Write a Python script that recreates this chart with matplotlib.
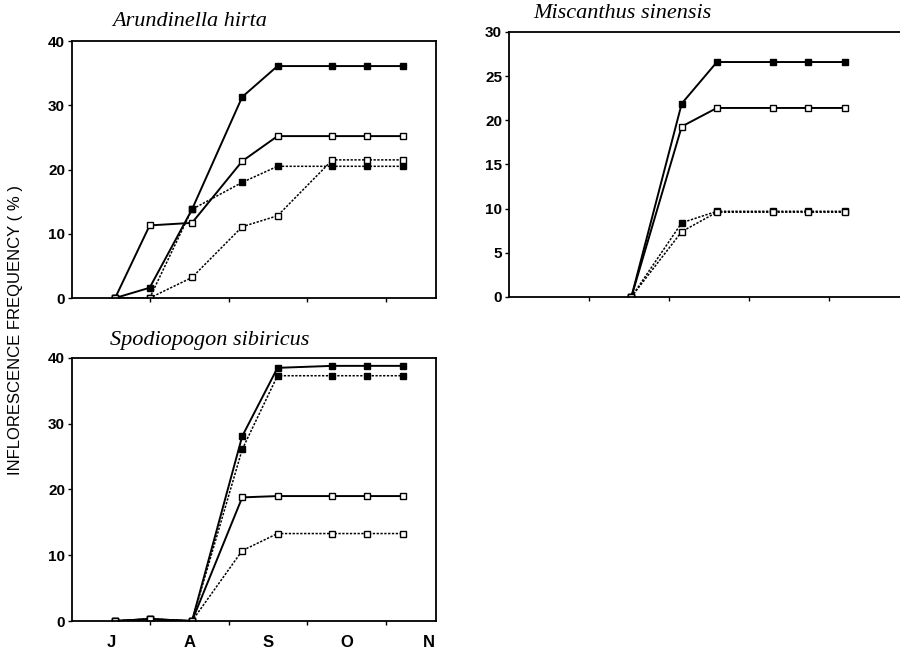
import numpy as np
import matplotlib
matplotlib.use('Agg')
import matplotlib.pyplot as plt

# Sampling dates, in months after 1 July
dates = [0.55, 0.99, 1.53, 2.17, 2.62, 3.32, 3.76, 4.22]
months = ['J', 'A', 'S', 'O', 'N']
month_pos = [0.5, 1.5, 2.5, 3.5, 4.55]

# Arundinella hirta
ar_filled_solid = [0, 1.6, 13.8, 31.3, 36.1, 36.1, 36.1, 36.1]
ar_open_solid = [0, 11.3, 11.7, 21.3, 25.2, 25.2, 25.2, 25.2]
ar_filled_dot = [0, 0, 13.8, 18.0, 20.5, 20.5, 20.5, 20.5]
ar_open_dot = [0, 0, 3.2, 11.1, 12.8, 21.5, 21.5, 21.5]

# Miscanthus sinensis (sampled from August on)
mi_dates = [1.53, 2.16, 2.60, 3.30, 3.74, 4.20]
mi_filled_solid = [0, 21.9, 26.6, 26.6, 26.6, 26.6]
mi_open_solid = [0, 19.3, 21.4, 21.4, 21.4, 21.4]
mi_filled_dot = [0, 8.4, 9.7, 9.7, 9.7, 9.7]
mi_open_dot = [0, 7.4, 9.6, 9.6, 9.6, 9.6]

# Spodiopogon sibiricus
sp_filled_solid = [0, 0.3, 0, 28.1, 38.5, 38.8, 38.8, 38.8]
sp_filled_dot = [0, 0.3, 0, 26.1, 37.3, 37.3, 37.3, 37.3]
sp_open_solid = [0, 0.3, 0, 18.8, 19.0, 19.0, 19.0, 19.0]
sp_open_dot = [0, 0.3, 0, 10.7, 13.3, 13.3, 13.3, 13.3]

tick_font = dict(family='Liberation Sans', weight='bold', size=11)
title_font = dict(family='Liberation Serif', style='italic', size=16)


def draw(ax, x, y, filled, dotted):
    ls = (0, (1.5, 1)) if dotted else '-'
    lw = 1.1 if dotted else 1.4
    ax.plot(x, y, color='black', linestyle=ls, linewidth=lw,
            marker='s', markersize=4.5, markeredgewidth=1.0,
            markerfacecolor='black' if filled else 'white',
            markeredgecolor='black')


def style(ax, xmax, ymax, ystep):
    ax.set_xlim(0, xmax)
    ax.set_ylim(0, ymax)
    ax.set_xticks([1, 2, 3, 4])
    ax.set_xticklabels([])
    ax.set_yticks(np.arange(0, ymax + 1, ystep))
    ax.set_yticklabels([str(v) for v in np.arange(0, ymax + 1, ystep)], **tick_font)
    ax.tick_params(direction='out', length=3, width=1, pad=2)
    for s in ax.spines.values():
        s.set_linewidth(1.3)


fig = plt.figure(figsize=(9, 6.53), dpi=100)

ax1 = fig.add_axes([0.08, 0.5436, 0.4044, 0.3936])
draw(ax1, dates, ar_filled_solid, True, False)
draw(ax1, dates, ar_open_solid, False, False)
draw(ax1, dates, ar_filled_dot, True, True)
draw(ax1, dates, ar_open_dot, False, True)
style(ax1, 4.64, 40, 10)

ax2 = fig.add_axes([0.5656, 0.5452, 0.4344, 0.4058])
draw(ax2, mi_dates, mi_filled_solid, True, False)
draw(ax2, mi_dates, mi_open_solid, False, False)
draw(ax2, mi_dates, mi_filled_dot, True, True)
draw(ax2, mi_dates, mi_open_dot, False, True)
style(ax2, 4.89, 30, 5)
ax2.spines['right'].set_visible(False)

ax3 = fig.add_axes([0.08, 0.049, 0.4044, 0.4028])
draw(ax3, dates, sp_filled_solid, True, False)
draw(ax3, dates, sp_filled_dot, True, True)
draw(ax3, dates, sp_open_solid, False, False)
draw(ax3, dates, sp_open_dot, False, True)
style(ax3, 4.64, 40, 10)
for p, m in zip(month_pos, months):
    ax3.text(p, -0.055, m, transform=ax3.get_xaxis_transform(),
             ha='center', va='top', family='Liberation Sans', weight='bold', size=12)

fig.text(112 / 900, 1 - 21 / 653, 'Arundinella hirta', ha='left', va='center', **title_font)
fig.text(533 / 900, 1 - 13 / 653, 'Miscanthus sinensis', ha='left', va='center', **title_font)
fig.text(110 / 900, 1 - 340 / 653, 'Spodiopogon sibiricus', ha='left', va='center', **title_font)

fig.text(0.017, 0.495, 'INFLORESCENCE FREQUENCY ( % )', rotation=90,
         ha='center', va='center', family='Liberation Sans', size=12)

fig.savefig('out.png', dpi=100)
